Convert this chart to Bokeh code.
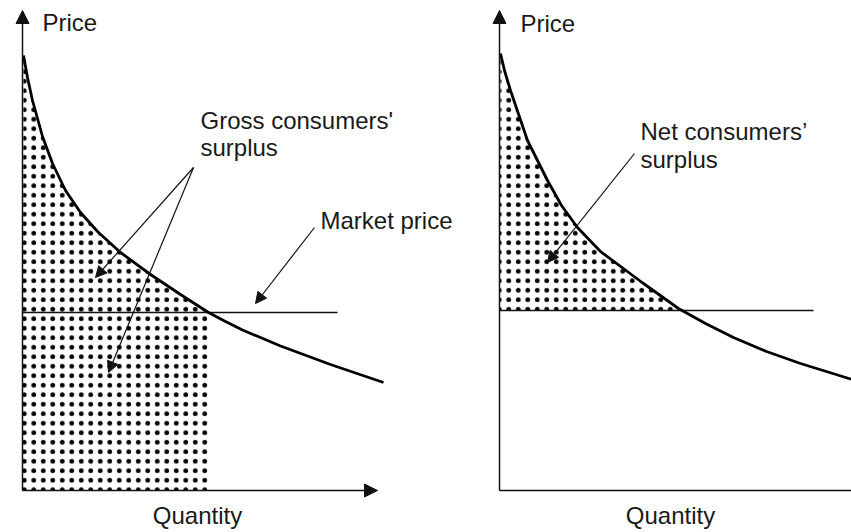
from bokeh.plotting import figure
from bokeh.layouts import row
from bokeh.models import Arrow, NormalHead, Range1d
from bokeh.core.properties import value
from bokeh.embed import file_html
from bokeh.resources import INLINE

# ---- data (quantity, price) ----
left_q = [0.1, 0.5, 1.0, 2.0, 3.0, 4.3, 5.8, 7.5, 9.8, 12.8, 15.8, 18.6, 20.2, 22.0, 25.8, 30.8, 36.1]
left_p = [43.5, 41.3, 39.0, 35.4, 32.7, 30.0, 27.8, 25.9, 23.8, 21.6, 19.6, 17.8, 16.95, 16.05, 14.45, 12.6, 10.8]
left_price = 17.8
left_qstar = 18.6
left_price_end = 31.5

right_q = [0.1, 0.5, 1.1, 2.8, 4.8, 6.2, 7.8, 10.1, 14.4, 17.9, 20.6, 23.4, 26.7, 30.1, 35.1, 37.0]
right_p = [43.7, 42.0, 40.0, 35.0, 31.0, 28.5, 26.3, 23.9, 20.7, 18.2, 16.7, 15.3, 13.9, 12.7, 11.15, 10.6]
right_price = 18.0
right_qstar = 18.2
right_price_end = 31.4

axis_label_x = "Quantity"
axis_label_y = "Price"

FONT = value("Liberation Sans")
TXT = "#1a1a1a"
Y0, Y1 = -4.2, 49.0
H = 532


def make_fig(width, x0, x1):
    p = figure(width=width, height=H, x_range=Range1d(x0, x1), y_range=Range1d(Y0, Y1),
               output_backend="svg", toolbar_location=None, min_border=0,
               x_axis_type=None, y_axis_type=None)
    p.grid.visible = False
    p.outline_line_color = None
    p.background_fill_color = "white"
    p.border_fill_color = "white"
    return p


def label(p, x, y, t, align="left"):
    p.text(x=[x], y=[y], text=[t], text_font=FONT, text_font_size="24px",
           text_color=TXT, text_align=align, text_baseline="alphabetic")


def arrow(p, xs, ys, xe, ye, size, lw):
    p.add_layout(Arrow(x_start=xs, y_start=ys, x_end=xe, y_end=ye, line_width=lw,
                       line_color="#111111",
                       end=NormalHead(size=size, fill_color="#111111", line_color="#111111")))


HATCH = dict(hatch_pattern="dot", hatch_color="black", hatch_scale=9.5, hatch_weight=0.6)

# ---------------- left panel ----------------
L = make_fig(475, -2.2, 45.3)
sel = [i for i, q in enumerate(left_q) if q <= left_qstar]
px = [0.0] + [left_q[i] for i in sel] + [left_qstar]
py = [0.0] + [left_p[i] for i in sel] + [0.0]
L.patch(px, py, fill_color="white", line_color=None, **HATCH)
L.line([0, left_price_end], [left_price, left_price], line_color="#111111", line_width=1.3)
L.line(left_q, left_p, line_color="black", line_width=2.8)
arrow(L, 0, 0, 0, 48.0, 13, 1.5)
arrow(L, 0, 0, 35.5, 0, 13, 1.5)
arrow(L, 17.1, 32.3, 7.3, 21.3, 11, 1.2)
arrow(L, 17.1, 32.3, 8.6, 11.8, 11, 1.2)
arrow(L, 29.2, 26.3, 23.3, 18.7, 11, 1.2)
label(L, 2.0, 46.8, axis_label_y)
label(L, 17.5, -2.5, axis_label_x, align="center")
label(L, 17.8, 37.0, "Gross consumers'")
label(L, 17.8, 34.3, "surplus")
label(L, 29.8, 27.0, "Market price")

# ---------------- right panel ----------------
R = make_fig(376, -2.4, 35.2)
sel = [i for i, q in enumerate(right_q) if q <= right_qstar]
px = [0.0] + [right_q[i] for i in sel] + [right_qstar]
py = [right_price] + [right_p[i] for i in sel] + [right_price]
R.patch(px, py, fill_color="white", line_color=None, **HATCH)
R.line([0, right_price_end], [right_price, right_price], line_color="#111111", line_width=1.3)
R.line(right_q, right_p, line_color="black", line_width=2.8)
arrow(R, 0, 0, 0, 48.0, 13, 1.5)
R.line([0, 40], [0, 0], line_color="#111111", line_width=1.5)
arrow(R, 13.5, 33.7, 4.8, 22.8, 11, 1.2)
label(R, 2.1, 46.7, axis_label_y)
label(R, 17.1, -2.5, axis_label_x, align="center")
label(R, 14.1, 35.9, "Net consumers\u2019")
label(R, 14.1, 33.1, "surplus")

layout = row(L, R)
open("out.html", "w").write(file_html(layout, INLINE))
